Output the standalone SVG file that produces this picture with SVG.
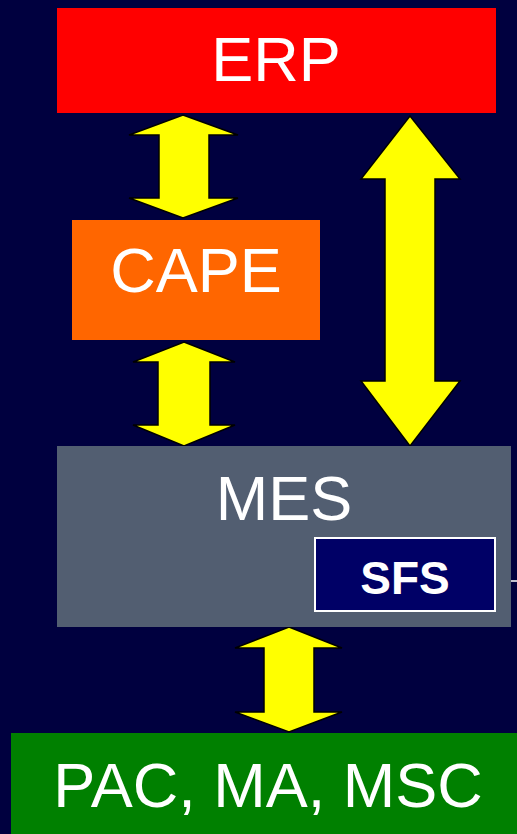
<svg xmlns="http://www.w3.org/2000/svg" width="517" height="834" viewBox="0 0 517 834">
<style>
.lbl{font-family:"Liberation Sans",Arial,sans-serif;fill:#fff;text-anchor:middle}
.big{font-size:63px}
.arr{fill:#ffff00;stroke:#000;stroke-width:1.5;stroke-linejoin:miter}
</style>
<rect x="0" y="0" width="517" height="834" fill="#00003f"/>
<g id="connectors">
<polygon class="arr" points="183,115 238,135 209,135 209,198 238,198 183,218 129,198 159,198 159,135 129,135"/>
<polygon class="arr" points="410,116 460,179 435,179 435,381 460,381 410,446 361,381 385,381 385,179 361,179"/>
<polygon class="arr" points="184,342 235,362 210,362 210,425 235,425 184,446 133,425 158,425 158,362 133,362"/>
<polygon class="arr" points="289,627 342,648 314,648 314,712 342,712 289,732 235,712 264,712 264,648 235,648"/>
<line x1="496" y1="581" x2="517" y2="581" stroke="#fff" stroke-width="1.5"/>
</g>
<g id="erp">
<rect x="57" y="8" width="439" height="105" fill="#ff0000"/>
<text class="lbl big" x="276" y="81">ERP</text>
</g>
<g id="cape">
<rect x="72" y="220" width="248" height="120" fill="#ff6600"/>
<text class="lbl big" x="196" y="292">CAPE</text>
</g>
<g id="mes">
<rect x="57" y="446" width="454" height="181" fill="#525e71"/>
<text class="lbl big" x="284" y="520">MES</text>
</g>
<g id="sfs">
<rect x="315" y="538" width="180" height="73" fill="#000066" stroke="#fff" stroke-width="2"/>
<text class="lbl" x="405" y="594" font-size="46" font-weight="bold">SFS</text>
</g>
<g id="pac">
<rect x="11" y="733" width="506" height="101" fill="#008000"/>
<text class="lbl big" x="268" y="807">PAC, MA, MSC</text>
</g>
</svg>
